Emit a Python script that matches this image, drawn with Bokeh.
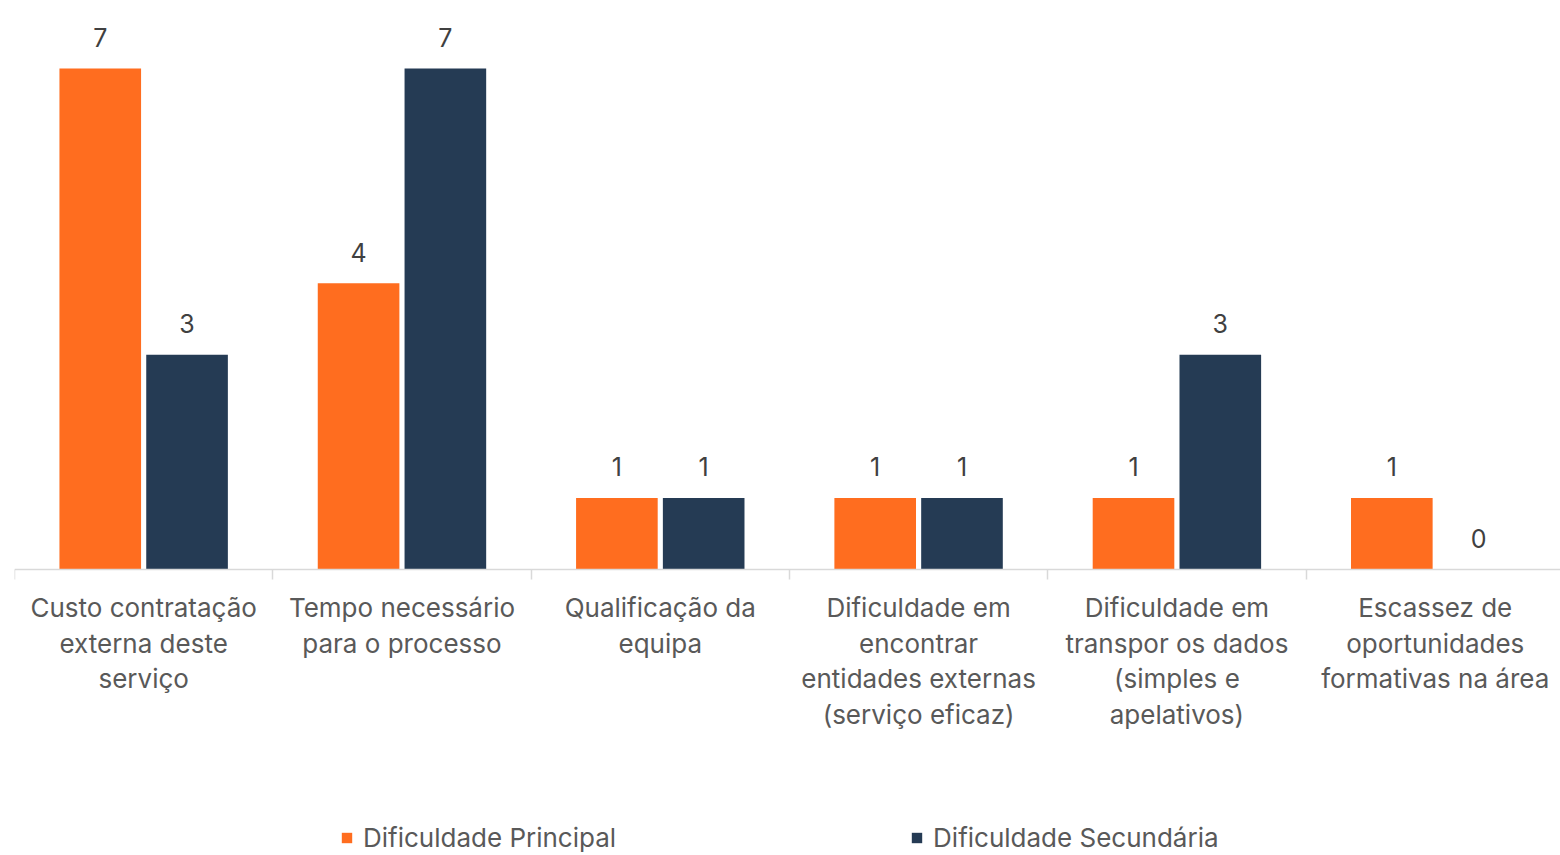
from bokeh.plotting import figure
from bokeh.models import (Range1d, FixedTicker, Legend, LegendItem,
                          ColumnDataSource, LinearAxis)
from bokeh.embed import file_html
from bokeh.resources import INLINE
from bokeh.core.properties import value
import numpy as np

# ---- data ----
categories = [
    "Custo contratação externa deste serviço",
    "Tempo necessário para o processo",
    "Qualificação da equipa",
    "Dificuldade em encontrar entidades externas (serviço eficaz)",
    "Dificuldade em transpor os dados (simples e apelativos)",
    "Escassez de oportunidades formativas na área",
]
category_labels = [
    "Custo contratação\nexterna deste\nserviço",
    "Tempo necessário\npara o processo",
    "Qualificação da\nequipa",
    "Dificuldade em\nencontrar\nentidades externas\n(serviço eficaz)",
    "Dificuldade em\ntranspor os dados\n(simples e\napelativos)",
    "Escassez de\noportunidades\nformativas na área",
]
principal = [7, 4, 1, 1, 1, 1]
secundaria = [3, 7, 1, 1, 3, 0]
series_names = ["Dificuldade Principal", "Dificuldade Secundária"]
series_colors = ["#FF6D1F", "#253B54"]

FONT = "Inter"
idx = np.arange(len(categories))
off = 0.168
bw = 0.316

p = figure(width=1560, height=855, output_backend="svg", toolbar_location=None,
           x_range=Range1d(0, 5.985), y_range=Range1d(-3.996, 7.95),
           x_axis_location=None, y_axis_location=None,
           min_border_left=14, min_border_right=0, min_border_top=0,
           min_border_bottom=0)
p.outline_line_color = None
p.background_fill_color = "white"
p.border_fill_color = "white"
p.grid.visible = False

src1 = ColumnDataSource(dict(x=idx + 0.5 - off, top=principal,
                             lbl=[str(v) for v in principal]))
src2 = ColumnDataSource(dict(x=idx + 0.5 + off, top=secundaria,
                             lbl=[str(v) for v in secundaria]))

r1 = p.vbar(x="x", top="top", bottom=0, width=bw, source=src1,
            fill_color=series_colors[0], line_color=None)
r2 = p.vbar(x="x", top="top", bottom=0, width=bw, source=src2,
            fill_color=series_colors[1], line_color=None)

for s in (src1, src2):
    p.text(x="x", y="top", text="lbl", source=s, y_offset=-31,
           text_align="center", text_baseline="alphabetic",
           text_font=value(FONT), text_font_size="25px", text_color="#404040")

ax = LinearAxis(ticker=FixedTicker(ticks=[float(i) + 0.5 for i in idx],
                                   minor_ticks=list(range(len(categories) + 1))),
                fixed_location=0)
ax.major_label_overrides = {float(i) + 0.5: lab for i, lab in zip(idx, category_labels)}
ax.axis_line_color = "#D9D9D9"
ax.axis_line_width = 1.5
ax.major_tick_line_color = None
ax.major_tick_out = 0
ax.major_tick_in = 0
ax.minor_tick_line_color = "#D9D9D9"
ax.minor_tick_line_width = 1.5
ax.minor_tick_out = 10
ax.minor_tick_in = 0
ax.major_label_standoff = 13
ax.major_label_text_font = FONT
ax.major_label_text_font_size = "26px"
ax.major_label_text_color = "#595959"
ax.major_label_text_line_height = 1.14
p.add_layout(ax, "below")

legend = Legend(items=[LegendItem(label=series_names[0], renderers=[r1]),
                       LegendItem(label=series_names[1], renderers=[r2])],
                location=(326, 2), orientation="horizontal",
                glyph_width=13, glyph_height=13, label_standoff=10,
                spacing=294, padding=0, margin=0,
                label_text_font=FONT, label_text_font_size="26px",
                label_text_color="#595959",
                border_line_color=None, background_fill_alpha=0)
p.add_layout(legend, "center")

open("out.html", "w").write(file_html(p, INLINE))
